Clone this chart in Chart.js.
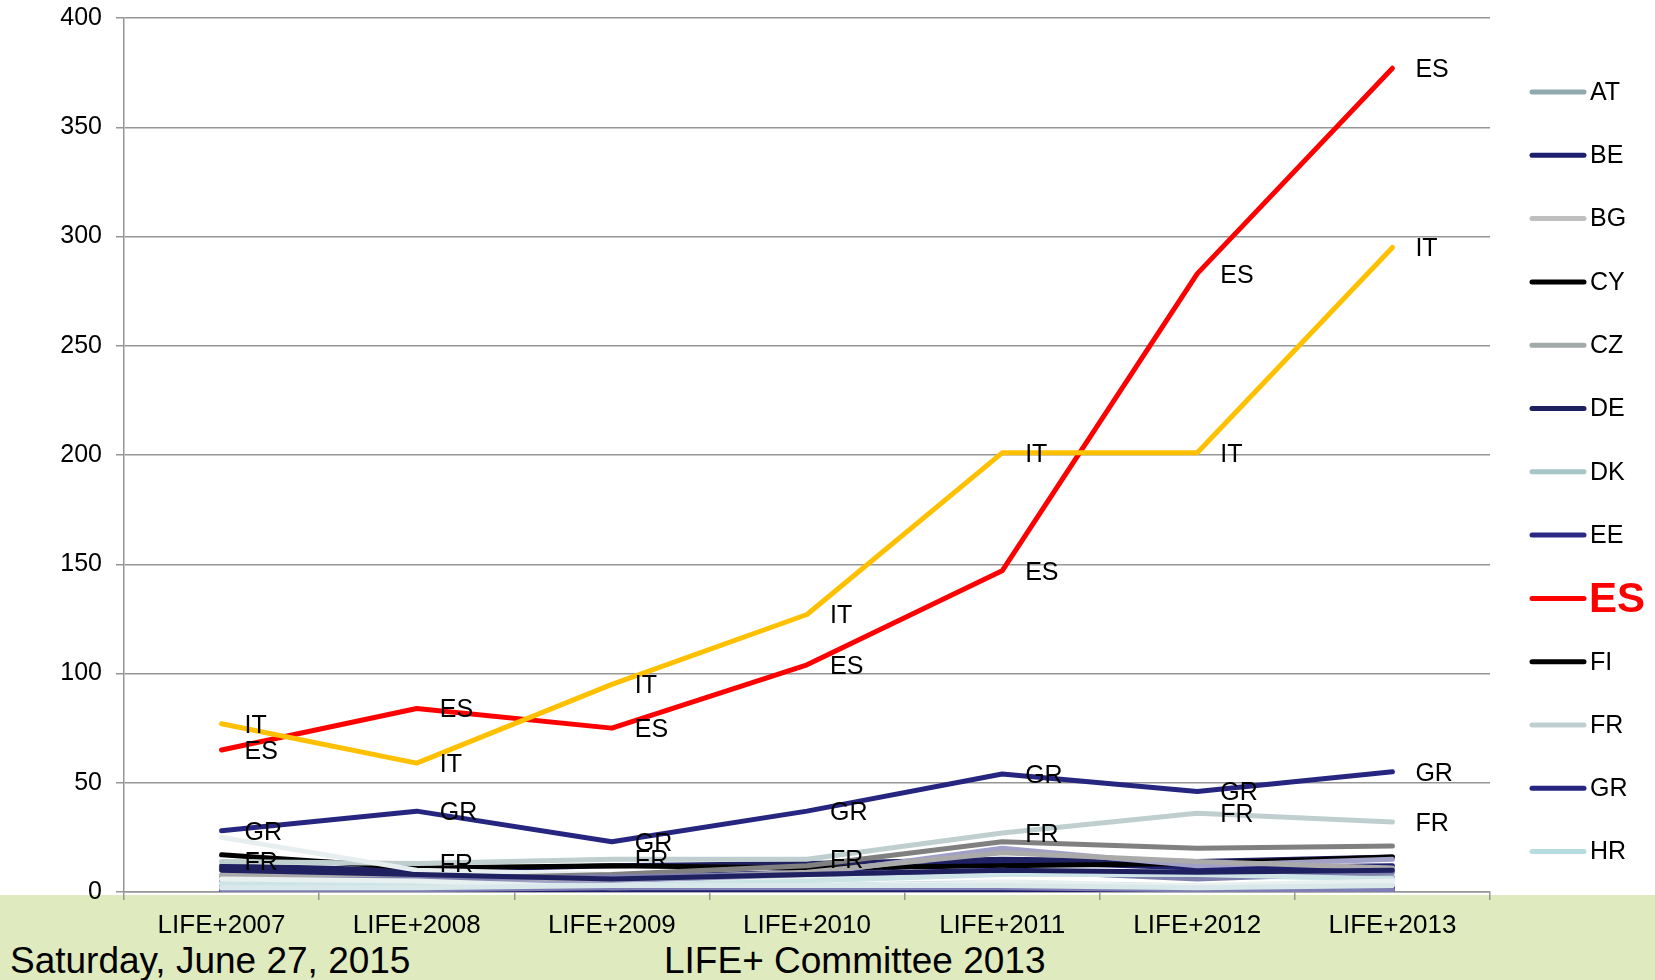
<!DOCTYPE html>
<html>
<head>
<meta charset="utf-8">
<script src="https://cdn.jsdelivr.net/npm/chart.js@4/dist/chart.umd.min.js"></script>
<style>
	html, body { margin: 0; padding: 0; background: #fff; }
	#wrap { position: relative; width: 1655px; height: 980px; overflow: hidden; font-family: Arial, "Liberation Sans", sans-serif; }
	#footer { position: absolute; left: 0; top: 895px; width: 1655px; height: 85px; background: #dfeabf; }
	#footer span { position: absolute; font-size: 37px; color: #000; white-space: nowrap; }
	#chart { position: absolute; left: 0; top: 0; }
</style>
</head>
<body>
<div id="wrap">
	<div id="footer">
		<span style="left:10px; top:45px;">Saturday, June 27, 2015</span>
		<span style="left:664px; top:45px;">LIFE+ Committee 2013</span>
	</div>
	<canvas id="chart" width="1655" height="980"></canvas>
</div>
<script>
// Chart data
const CATEGORIES = ["LIFE+2007", "LIFE+2008", "LIFE+2009", "LIFE+2010", "LIFE+2011", "LIFE+2012", "LIFE+2013"];
const Y_TICKS = [0, 50, 100, 150, 200, 250, 300, 350, 400];

const COUNTRIES = ["AT", "BE", "BG", "CY", "CZ", "DE", "DK", "EE", "ES", "FI", "FR", "GR", "HR",
	"HU", "IE", "IT", "LT", "LU", "LV", "MT", "NL", "PL", "PT", "RO", "SE", "SI", "SK", "UK"];

const AT = [6, 5, 4, 5, 8, 6, 7];
const BE = [11, 9, 7, 9, 14, 11, 12];
const BG = [4, 3, 4, 5, 5, 3, 4];
const CY = [2, 1, 1, 1, 2, 1, 2];
const CZ = [3, 3, 4, 4, 6, 5, 6];
const DE = [12, 10, 12, 13, 15, 14, 16];
const DK = [5, 4, 4, 5, 6, 7, 6];
const EE = [1, 1, 0, 1, 4, 4, 3];
const ES = [65, 84, 75, 104, 147, 283, 377];
const FI = [17, 11, 12, 11, 12, 13, 16];
const FR = [14, 13, 15, 15, 27, 36, 32];
const GR = [28, 37, 23, 37, 54, 46, 55];
const HR = [null, null, null, null, null, 1, 6];
const HU = [6, 5, 4, 6, 9, 7, 6];
const IE = [25, 10, 8, 6, 6, 5, 4];
const IT = [77, 59, 95, 127, 201, 201, 295];
const LT = [2, 2, 3, 3, 2, 1, 1];
const LU = [0, 1, 0, 0, 1, 0, 1];
const LV = [3, 4, 5, 8, 20, 12, 15];
const MT = [4, 3, 3, 5, 7, 5, 4];
const NL = [7, 6, 8, 12, 23, 20, 21];
const PL = [8, 7, 6, 9, 18, 14, 11];
const PT = [5, 6, 7, 8, 10, 6, 9];
const RO = [4, 3, 3, 5, 8, 8, 6];
const SE = [6, 5, 2, 3, 4, 3, 5];
const SI = [1, 1, 2, 2, 2, 1, 1];
const SK = [2, 2, 3, 3, 3, 2, 3];
const UK = [10, 8, 6, 8, 10, 9, 10];

const SERIES = [AT, BE, BG, CY, CZ, DE, DK, EE, ES, FI, FR, GR, HR,
	HU, IE, IT, LT, LU, LV, MT, NL, PL, PT, RO, SE, SI, SK, UK];

const SERIES_COLORS = ["#8faaae", "#1f1f70", "#bfbfbf", "#000000", "#a2aaaa", "#1f2060", "#a5c5c8", "#2a2a85",
	"#ff0000", "#000000", "#bfcfd0", "#262680", "#b5dde0",
	"#d0e4e6", "#e6eeef", "#ffc000", "#8888b8", "#1f1f70", "#a0a0c8", "#ffffff", "#808080", "#aaaaaa",
	"#8080b0", "#cce4e6", "#e8f0f0", "#7f7fb4", "#d9e8ea", "#1f2060"];

// series that carry point labels
const LABELLED = ["ES", "IT", "GR", "FR"];
// legend shows the first entries only, the rest are cut by the footer
const LEGEND_COUNT = 13;

const FONT = "Arial, 'Liberation Sans', sans-serif";

// Point labels to the right of each point
const pointLabels = {
	id: "pointLabels",
	afterDatasetsDraw(chart) {
		const { ctx } = chart;
		ctx.save();
		ctx.font = "25px " + FONT;
		ctx.fillStyle = "#000";
		ctx.textAlign = "left";
		ctx.textBaseline = "middle";
		chart.data.datasets.forEach((ds, i) => {
			if (!LABELLED.includes(ds.label)) return;
			chart.getDatasetMeta(i).data.forEach((pt) => {
				ctx.fillText(ds.label, pt.x + 23, pt.y + 2);
			});
		});
		ctx.restore();
	},
};

// Legend drawn down the right side
const sideLegend = {
	id: "sideLegend",
	afterDraw(chart) {
		const { ctx } = chart;
		ctx.save();
		ctx.textAlign = "left";
		ctx.textBaseline = "middle";
		ctx.lineCap = "round";
		for (let i = 0; i < LEGEND_COUNT; i++) {
			const ds = chart.data.datasets[i];
			const y = 92 + i * 63.3;
			ctx.strokeStyle = ds.borderColor;
			ctx.lineWidth = 5;
			ctx.beginPath();
			ctx.moveTo(1532, y);
			ctx.lineTo(1584, y);
			ctx.stroke();
			if (ds.label === "ES") {
				ctx.font = "bold 42px " + FONT;
				ctx.fillStyle = "#ff0000";
				ctx.fillText(ds.label, 1589, y + 2);
			} else {
				ctx.font = "25px " + FONT;
				ctx.fillStyle = "#000";
				ctx.fillText(ds.label, 1590, y + 1);
			}
		}
		ctx.restore();
	},
};

const CHART_DATA = {
	labels: CATEGORIES,
	datasets: COUNTRIES.map((name, i) => ({
		label: name,
		data: SERIES[i],
		borderColor: SERIES_COLORS[i],
		backgroundColor: SERIES_COLORS[i],
		borderWidth: 5,
		pointRadius: 0,
		tension: 0,
		borderCapStyle: "round",
		borderJoinStyle: "round",
		order: COUNTRIES.length - i,
	})),
};

const CHART_CONFIG = {
	type: "line",
	data: CHART_DATA,
	plugins: [pointLabels, sideLegend],
	options: {
		responsive: false,
		animation: false,
		layout: {
			padding: { top: 18, right: 165, bottom: 0, left: 0 },
		},
		scales: {
			x: {
				offset: true,
				border: { display: true, color: "#969696", width: 1.5 },
				grid: {
					offset: true,
					drawOnChartArea: false,
					drawTicks: true,
					tickLength: 8,
					color: "#969696",
					lineWidth: 1.5,
				},
				ticks: {
					color: "#000",
					font: { family: FONT, size: 26 },
					padding: 10,
					maxRotation: 0,
					autoSkip: false,
				},
				afterFit: (scale) => { scale.height = 88; },
			},
			y: {
				min: Y_TICKS[0],
				max: Y_TICKS[Y_TICKS.length - 1],
				border: { display: true, color: "#969696", width: 1.5 },
				grid: {
					color: "#969696",
					lineWidth: 1.5,
					tickLength: 8,
				},
				afterBuildTicks: (scale) => {
					scale.ticks = Y_TICKS.map((v) => ({ value: v }));
				},
				ticks: {
					color: "#000",
					font: { family: FONT, size: 25 },
					padding: 14,
				},
				afterFit: (scale) => {
					scale.width = 124;
					scale.paddingTop = 0;
					scale.paddingBottom = 0;
				},
			},
		},
		plugins: {
			legend: { display: false },
			tooltip: { enabled: false },
		},
	},
};

new Chart(document.getElementById("chart"), CHART_CONFIG);
</script>
</body>
</html>
